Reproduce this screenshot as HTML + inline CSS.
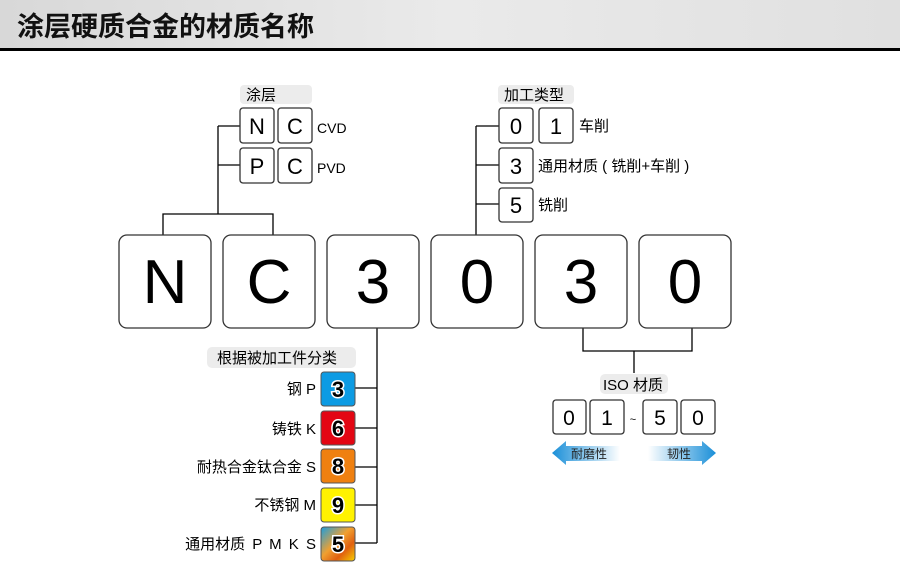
<!DOCTYPE html>
<html><head><meta charset="utf-8"><style>
body{margin:0;width:900px;height:580px;overflow:hidden;background:#fff;font-family:"Liberation Sans","Noto Sans CJK SC",sans-serif;}
</style></head><body>
<svg width="900" height="580" xmlns="http://www.w3.org/2000/svg" font-family="Liberation Sans, Noto Sans CJK SC, sans-serif">
<defs>
<linearGradient id="hd" x1="0" x2="1"><stop offset="0" stop-color="#d8d8d8"/><stop offset="0.5" stop-color="#eaeaea"/><stop offset="1" stop-color="#e0e0e0"/></linearGradient>
<linearGradient id="mix" x1="0" y1="0" x2="1" y2="1"><stop offset="0" stop-color="#1a9ee0"/><stop offset="0.45" stop-color="#f0a030"/><stop offset="0.7" stop-color="#e06010"/><stop offset="1" stop-color="#f8d000"/></linearGradient>
<linearGradient id="al" x1="0" x2="1"><stop offset="0" stop-color="#1a8fd8"/><stop offset="1" stop-color="#ffffff"/></linearGradient>
<linearGradient id="ar" x1="0" x2="1"><stop offset="0" stop-color="#ffffff"/><stop offset="1" stop-color="#1a8fd8"/></linearGradient>
</defs>
<rect x="0" y="0" width="900" height="48" fill="url(#hd)"/>
<rect x="0" y="48" width="900" height="3" fill="#000"/>
<text x="17" y="36" font-size="27" font-weight="bold" fill="#111">涂层硬质合金的材质名称</text>

<g fill="none" stroke="#000" stroke-width="1.3">
<path d="M218 126V214M218 126H240M218 165H240M163 235V214H273V235"/>
<path d="M476 126V235M476 126H499M476 165H499M476 204H499"/>
<path d="M377 328V543M355 388H377M355 428H377M355 467H377M355 505H377M355 543H377"/>
<path d="M583 328V351H692V328M634 351V373"/>
</g>

<g fill="#fff" stroke="#333" stroke-width="1.3">
<rect x="119" y="235" width="92" height="93" rx="8"/>
<rect x="223" y="235" width="92" height="93" rx="8"/>
<rect x="327" y="235" width="92" height="93" rx="8"/>
<rect x="431" y="235" width="92" height="93" rx="8"/>
<rect x="535" y="235" width="92" height="93" rx="8"/>
<rect x="639" y="235" width="92" height="93" rx="8"/>
<rect x="240" y="108" width="34" height="35" rx="3"/>
<rect x="278" y="108" width="34" height="35" rx="3"/>
<rect x="240" y="148" width="34" height="35" rx="3"/>
<rect x="278" y="148" width="34" height="35" rx="3"/>
<rect x="499" y="108" width="34" height="35" rx="3"/>
<rect x="539" y="108" width="34" height="35" rx="3"/>
<rect x="499" y="148" width="34" height="35" rx="3"/>
<rect x="499" y="188" width="34" height="34" rx="3"/>
<rect x="553" y="400" width="33" height="34" rx="3"/>
<rect x="590" y="400" width="34" height="34" rx="3"/>
<rect x="643" y="400" width="34" height="34" rx="3"/>
<rect x="681" y="400" width="34" height="34" rx="3"/>
</g>
<g font-size="62" text-anchor="middle" fill="#000">
<text x="165" y="303">N</text><text x="269" y="303">C</text><text x="373" y="303">3</text>
<text x="477" y="303">0</text><text x="581" y="303">3</text><text x="685" y="303">0</text>
</g>
<g font-size="22" text-anchor="middle" fill="#000">
<text x="257" y="134">N</text><text x="295" y="134">C</text>
<text x="257" y="174">P</text><text x="295" y="174">C</text>
<text x="516" y="134">0</text><text x="556" y="134">1</text>
<text x="516" y="174">3</text><text x="516" y="213">5</text>
</g>
<g font-size="21" text-anchor="middle" fill="#000">
<text x="569" y="425">0</text><text x="607" y="425">1</text>
<text x="660" y="425">5</text><text x="698" y="425">0</text>
</g>
<text x="633" y="423" font-size="11" text-anchor="middle">~</text>

<g fill="#ececec">
<rect x="240" y="85" width="72" height="19" rx="4"/>
<rect x="498" y="85" width="76" height="19" rx="4"/>
<rect x="207" y="347" width="149" height="21" rx="5"/>
<rect x="600" y="374" width="68" height="20" rx="5"/>
</g>
<g font-size="15" fill="#000">
<text x="246" y="100">涂层</text>
<text x="504" y="100">加工类型</text>
<text x="217" y="363">根据被加工件分类</text>
<text x="603" y="390">ISO 材质</text>
<text x="317" y="133" font-size="14">CVD</text>
<text x="317" y="173" font-size="14">PVD</text>
<text x="579" y="131">车削</text>
<text x="538" y="171">通用材质 ( 铣削+车削 )</text>
<text x="538" y="210">铣削</text>
</g>
<g font-size="15" fill="#000" text-anchor="end">
<text x="316" y="394">钢 P</text>
<text x="316" y="434">铸铁 K</text>
<text x="316" y="472">耐热合金钛合金 S</text>
<text x="316" y="510">不锈钢 M</text>
<text x="316" y="549" word-spacing="3">通用材质 P M K S</text>
</g>
<g stroke="#555" stroke-width="1">
<rect x="321" y="372" width="34" height="34" rx="3" fill="#0d9be3"/>
<rect x="321" y="411" width="34" height="34" rx="3" fill="#e30613"/>
<rect x="321" y="449" width="34" height="34" rx="3" fill="#ef8010"/>
<rect x="321" y="488" width="34" height="34" rx="3" fill="#fff200"/>
<rect x="321" y="527" width="34" height="34" rx="3" fill="url(#mix)"/>
</g>
<g font-size="22" text-anchor="middle" fill="#000" stroke="#fff" stroke-width="3" paint-order="stroke" font-weight="bold">
<text x="338" y="397">3</text><text x="338" y="436">6</text><text x="338" y="474">8</text>
<text x="338" y="513">9</text><text x="338" y="552">5</text>
</g>
<polygon points="552,453 566,441 566,446 620,446 620,461 566,461 566,465" fill="url(#al)"/>
<polygon points="716,453 702,441 702,446 648,446 648,461 702,461 702,465" fill="url(#ar)"/>
<text x="571" y="458" font-size="12" fill="#222">耐磨性</text>
<text x="667" y="458" font-size="12" fill="#222">韧性</text>
</svg>
</body></html>
